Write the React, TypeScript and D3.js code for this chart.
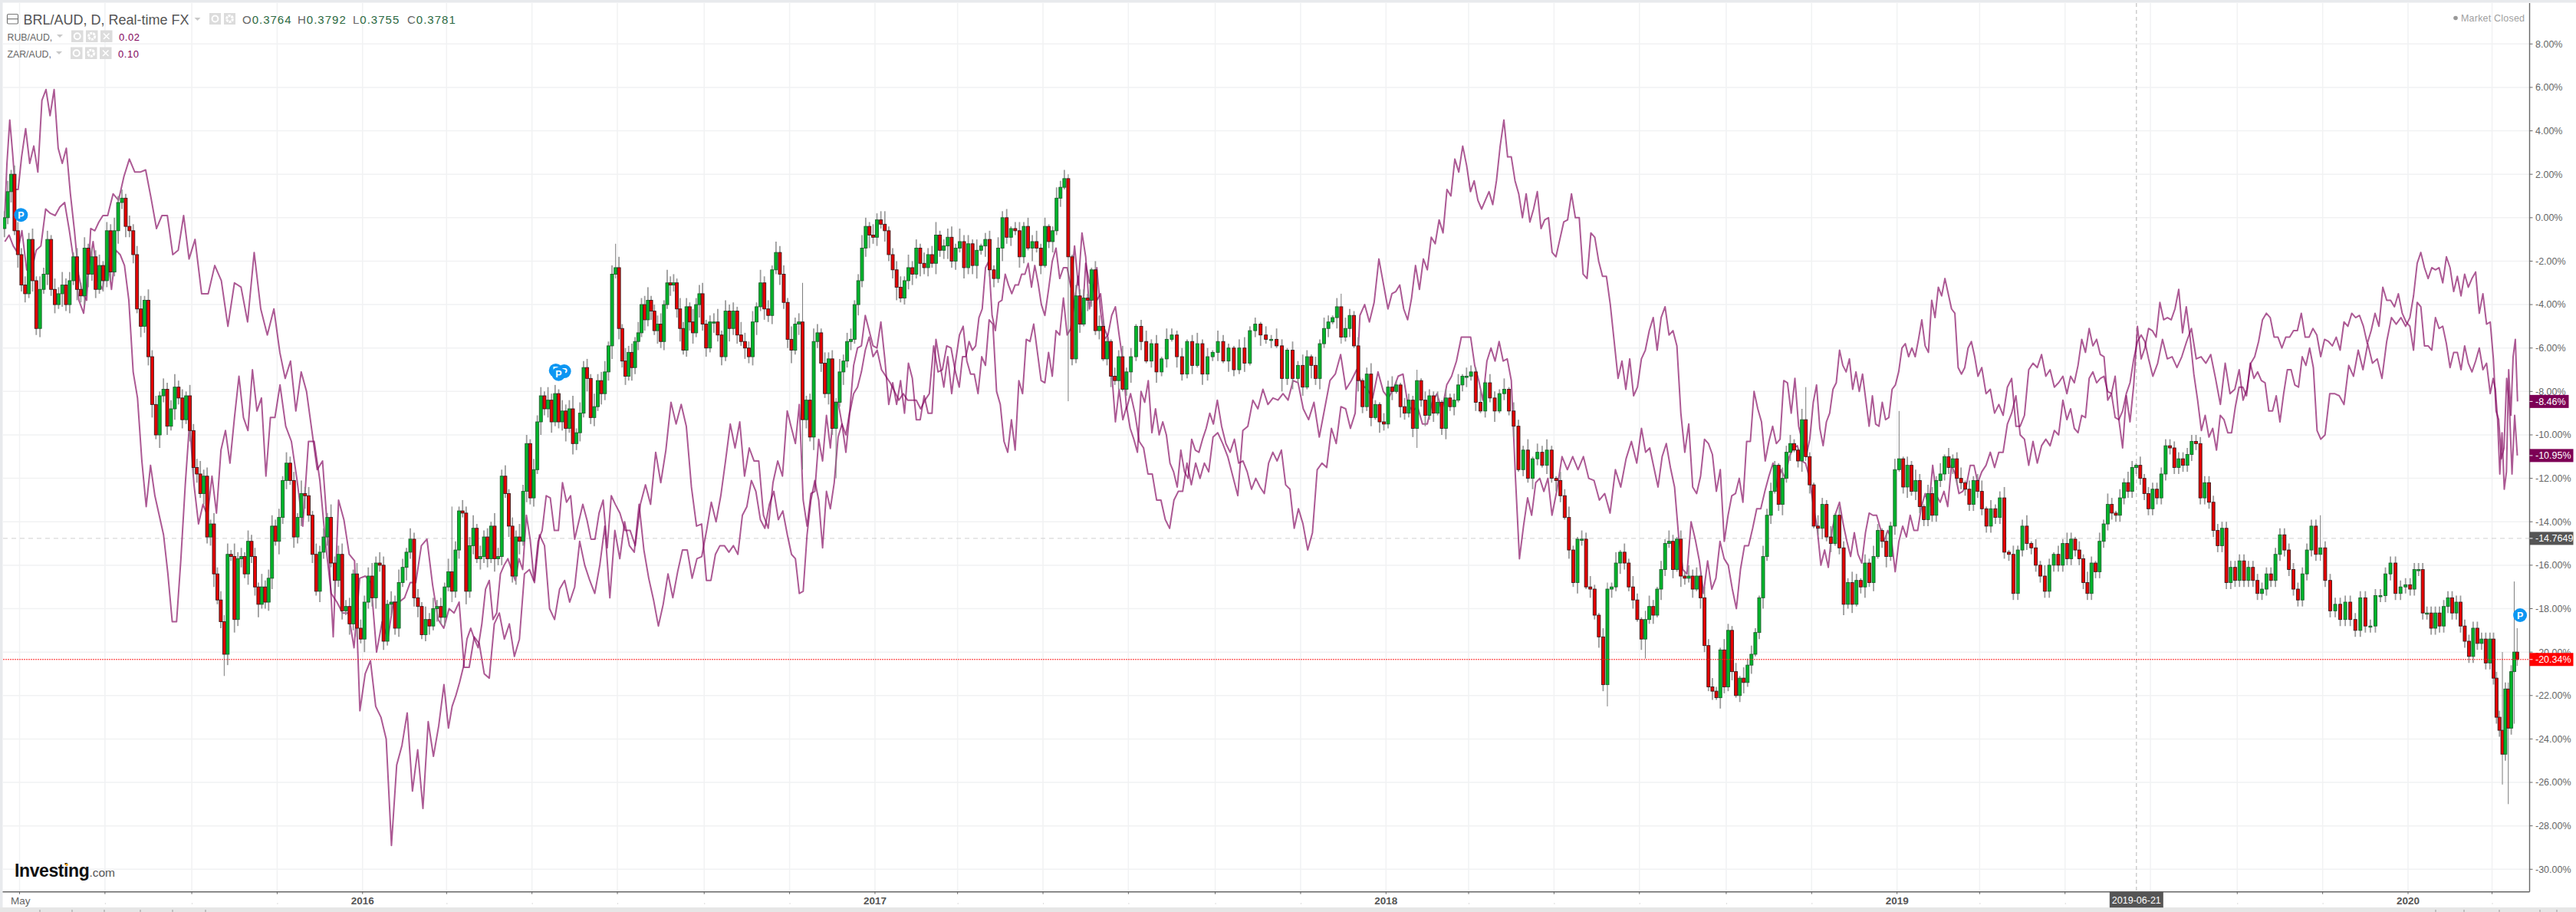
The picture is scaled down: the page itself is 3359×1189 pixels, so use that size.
import React from "react";
import * as d3 from "d3";

const W = 3359, H = 1189;
const FONT = "'Liberation Sans', Arial, sans-serif";

// Period boundaries: two-month chart periods, plus a short lead-in and tail
const firstDate = new Date(Date.UTC(2015, 3, 19));
const lastDate = new Date(Date.UTC(2020, 2, 20));
const yearLabels = [["May", Date.UTC(2015, 4, 1)], ["2016", Date.UTC(2016, 0, 1)], ["2017", Date.UTC(2017, 0, 1)], ["2018", Date.UTC(2018, 0, 1)], ["2019", Date.UTC(2019, 0, 1)], ["2020", Date.UTC(2020, 0, 1)]] as const;
const crosshairDate = Date.UTC(2019, 5, 21);
const crosshairLabel = "2019-06-21";
const pctTicks = [8, 6, 4, 2, 0, -2, -4, -6, -8, -10, -12, -14, -16, -18, -20, -22, -24, -26, -28, -30];

// BRL/AUD closes, % change, one list per period
const brlCloses = [
  [0, 1.2, 2.0, -0.6, -1.7],
  [-3.1, -3.5, -1, -2.9, -5.1, -3.3, -2.6, -1, -3.3, -4, -3.5, -3.1, -4, -2.9, -1.8, -3.3, -3.6, -1.4, -2.6, -1.8, -3.3, -2.2, -2.9],
  [-0.6, -2.5, -0.6, 0.7, 0.9, -0.4, -0.6, -1.7, -4.2, -5, -3.8, -6.4, -8.6, -10, -8.2, -7.9, -9.6, -8.8, -7.8, -8.3, -9.3, -8.2, -9.8],
  [-11.5, -11.8, -12.7, -11.9, -14.7, -14.1, -16.4, -17.6, -18.6, -20.1, -15.5, -15.6, -18.5, -15.7, -15.6, -16.4, -14.9, -15.6, -17, -17.8, -17, -17.7, -16.6, -14.2, -14.9],
  [-13.8, -12.1, -11.3, -12.1, -14.7, -13.8, -12.7, -12.8, -13.7, -15.5, -17.2, -15.4, -14.7, -13.8, -15.9, -16.7, -15.5, -18.1, -17.9, -18.7, -16.4, -18.9, -19.4],
  [-17.7, -16.5, -17.5, -15.9, -16, -19.5, -17.8, -17.7, -18.9, -16.8, -16.1, -15.4, -14.8, -17.5, -17.9, -19.2, -18.5, -18.8, -18, -17.9, -18.4, -17],
  [-16.3, -17.2, -15.3, -13.5, -13.6, -17.2, -15.1, -14.3, -15.7, -15.6, -14.7, -15.7, -14.2, -15.7, -15.6, -11.9, -12.7, -14.2, -16.5, -14.7, -14.9, -12.6, -10.4, -12.9],
  [-11.6, -9.4, -8.2, -8.8, -8.4, -9.4, -8.1, -9.4, -8.9, -9.7, -8.8, -10.4, -9.9, -9, -6.9, -7.4, -9.2, -8.7, -7.5, -8.1, -7.1, -5.9, -2.6, -2.3],
  [-5.1, -6.6, -7.3, -6.2, -6.9, -5.7, -5.3, -4, -4.7, -3.8, -4.3, -5.2, -4.9, -5.7, -4, -3, -3.1, -3, -4.2, -5.1, -6.1, -4.1, -4.8, -5.3, -4, -3.5, -4.9],
  [-6, -4.8, -4.8, -5.4, -6.4, -4.3, -5.1, -4.3, -5.4, -5.7, -6, -6.4, -4.8, -4.1, -3, -4.2, -4.5, -2.4, -1.6, -2.6, -3.9, -5.6],
  [-6.1, -4.9, -4.8, -9.3, -8.4, -10.1, -5.7, -5.3, -6.7, -8.1, -6.5, -9.7, -8.5, -7.1, -6.6, -5.7, -5.6, -4, -2.9, -1.4, -0.4, -0.8, -0.9],
  [-0.1, -0.3, -0.6, -1.7, -2.4, -3.2, -3.7, -2.9, -2.3, -2.6, -1.4, -2.1, -2.3, -1.7, -2.1, -0.8, -1.5, -1.3, -0.9, -2, -1.4],
  [-1.1, -2.3, -1.2, -2.2, -1.5, -1.3, -1, -2.4, -2.8, -1.4, 0, -0.9, -0.5, -0.6, -1.8, -0.4, -1.4, -1.1, -1.4, -2.2],
  [-0.4, -1.1, -0.6, 0.9, 1.4, 1.8, -1.8, -6.5, -3.6, -4.9, -3.7, -3.8, -2.4, -5.2, -5, -6.5, -5.7, -7.3, -7.5, -6.4, -7.9, -7.1],
  [-6.4, -5, -5.7, -6.6, -5.8, -7.1, -6.5, -5.6, -5.4, -6.4, -7.2, -5.7, -6.8, -5.8, -7.2, -6.4, -6.2],
  [-5.7, -6.6, -6, -7, -6, -6.7, -5.2, -4.9, -5.4, -5.6, -5.6, -5.9, -7.4, -6.1, -7.4, -6.8],
  [-7.8, -6.4, -6.8, -7.4, -5.8, -5.1, -4.8, -4.6, -4.1, -5.5, -5.1, -4.5, -5.9, -7.5, -8.7, -7.2, -9.2, -8.6, -9.4, -9.5],
  [-7.8, -8, -7.7, -8.7, -9, -8.4, -9.7, -7.5, -8.4, -9.1, -8.2, -9, -8.5, -9.7, -8.3, -8.7, -8.4, -7.7, -7.3, -7.3],
  [-7.1, -8.5, -8.9, -7.6, -8.3, -8.9, -8.1, -7.9, -8.9, -9.6, -11.6, -10.7, -12, -11.1, -10.8, -11.4, -10.7, -12],
  [-12.1, -12.8, -13.8, -15.3, -16.8, -14.8, -14.8, -17, -17.1, -18.3, -19.3, -21.5, -17.1, -17, -15.9, -15.4, -15.9, -17, -17.6, -18.5],
  [-19.4, -18.5, -17.9, -18.3, -17.1, -16.2, -15, -14.9, -16.2, -14.8, -16.5, -16.6, -16.5, -17.1, -16.5, -17.5, -19.7, -21.6, -21.8, -22.1, -19.9, -21.6],
  [-19, -20.9, -22, -21.2, -21.4, -20.6, -20.1, -19.1, -17.5, -15.6, -13.7, -12.6, -11.4, -13.2, -12, -10.8, -10.4, -10.7, -11.2, -9.3, -11, -12.3],
  [-14.2, -14.3, -13.2, -14.7, -15, -13.7, -15.2, -17.8, -16.8, -17.8, -16.7, -17, -15.9, -16.8, -15.6, -14.4, -14.9, -15.6, -14.2, -11.6],
  [-11.1, -12.4, -11.4, -12.6, -12.1, -13.3, -13.9, -12.7, -13.7, -12.1, -11.8, -11, -11.5, -11.1, -12, -12.2, -12.5, -13.2, -12.1, -12.6],
  [-13.4, -14.2, -13.4, -13.8, -12.9, -15.4, -15.5, -17.3, -15.3, -14.2, -15, -15.2, -16, -16.5, -17.2, -16, -15.5, -16, -15],
  [-15.7, -14.8, -15.3, -15.7, -16.8, -17.3, -15.9, -16.3, -14.9, -14.1, -13.2, -13.6, -13.7, -12.9, -12.2, -12.6, -11.5, -11.4, -12, -12.7, -13.4],
  [-12.5, -12.9, -11.8, -10.5, -10.6, -11.5, -11.1, -11.4, -10.9, -10.3, -10.4, -12.9, -12.2, -13.1, -14.4, -15.1, -14.3, -16.8, -16.1, -16.7],
  [-15.8, -16.7, -16.1, -16.7, -17.3, -17.1, -16.4, -16.7, -15.5, -14.6, -15.3, -16.2, -17.1, -17.6, -16.4, -15.3, -14.2, -15.5, -15.2],
  [-16.7, -18.1, -17.8, -18.5, -17.7, -18.5, -19, -17.5, -18.8, -18.8, -17.4, -17.4, -16.4, -15.9, -17.3, -17, -16.9],
  [-17.1, -16.2, -16.2, -18.2, -18.2, -18.9, -18.2, -18.8, -17.9, -17.5, -18.2, -17.7, -18.8, -19.5, -20.2, -18.9, -19.6, -19.4, -20.5, -19.4],
  [-21.2, -23, -23.6, -24.7, -21.7, -23.5, -20.9, -20.0, -20.34],
];

// Upper and lower wick lengths in tenths of a percent, bar by bar
const wickUpDigits = "3524434352634253634243524352436342534625342534634253463425343526342534263453425342634253426345342543463542536425342635342634253462534264352436342534263425346253426345243526342534623452634253426345234625342643526342534263452364253426345236425346234526342534623452634251342534134243524125342153421453214352413524153241352415321452314253142531425314253241352143521432514325142351432514325143251435214352143521432514253145314253142534153421532415342153421534215321532514325314253142531425314325142351423514235142351425314253142531425314253142";
const wickDownDigits = "4352634253425342634253463425342635342534626342534253425346234526342534623452634253463425342634253426345342534263452342634253426342534263425346253426345234625342634253462534263425342634253462345263425342634253462534253462534263425342634253463425346234526342534634253462534263425316241352415324153241352413524135241532415324153241352416352416352415324153241532415324135241352413524132513251325314253142531425314253241532415324153241532415324135241352413524135241352413524135241352413524";

// Individually read long wicks: date, wick end in %
const longWicks: [number, number][] = [
  [Date.UTC(2015, 8, 23), -21.1], [Date.UTC(2016, 2, 4), -13.3], [Date.UTC(2016, 5, 30), -1.2],
  [Date.UTC(2016, 10, 9), -3], [Date.UTC(2016, 10, 9), -11.6], [Date.UTC(2016, 11, 3), -12],
  [Date.UTC(2017, 4, 18), -8.45], [Date.UTC(2017, 10, 29), -3.5], [Date.UTC(2018, 0, 24), -10.6],
  [Date.UTC(2018, 5, 7), -22.5], [Date.UTC(2018, 6, 6), -20.3], [Date.UTC(2018, 9, 28), -7.8],
  [Date.UTC(2019, 0, 3), -8.9], [Date.UTC(2019, 9, 31), -13.7], [Date.UTC(2020, 2, 8), -20],
  [Date.UTC(2020, 2, 8), -26.1], [Date.UTC(2020, 2, 13), -27], [Date.UTC(2020, 2, 17), -16.75],
  [Date.UTC(2020, 2, 17), -23.3], [Date.UTC(2020, 2, 19), -18.9],
];

// Overlaid series, one list per period
const rubLine = [
  [-0.5, 2.5, 4.5, 3, 1.3, 1.3],
  [2.8, 4.1, 2.5, 3.3, 2.1, 5.4, 5.9, 4.7, 5.9, 3.2, 2.5, 3.2, 1.1, -0.6, -2.6, -3.5, -3.8, -0.5, -0.6, -0.2, 0.1],
  [0.1, 1.1, 0.8, 1.9, 2.7, 2.1, 2.1, 2.2, 0.9, -0.5, 0.1, 0.1, -1.7, -1.5, 0.1, -1.9],
  [-1, -3.5, -3.5, -2.2, -2.9, -5, -3, -3.2, -4.8, -1.6, -4.2, -5.4, -4.2],
  [-6.2, -7.4, -6.6, -8.9, -7.1, -8, -9.8, -11.6, -11.2, -14.6, -19.3, -13, -13.9, -15.5, -15.8, -22.7],
  [-21, -20.4, -22.5, -23, -24, -28.9, -25.2, -24.3, -22.8, -26.4, -24.5, -27.2, -23.2, -24.8, -23.4, -21.5],
  [-23.5, -22.5, -22, -21.4, -20.7, -19.4, -18.9, -19.4, -19.8, -18.7, -17.1, -16.7, -18.5, -18.2, -16.4, -16, -15.7, -16.2, -16.7, -15.7, -16.2, -13.7, -14.8],
  [-16.7, -14.9, -14.4, -12.8, -12.9, -14.4, -14.4, -12.2, -13.1, -12.8, -14.8, -14, -13.2, -13.9, -14.8, -14.8, -13.6, -13, -15.2, -12.8, -13.2],
  [-13.6, -14.4, -14.4, -15.1, -13.2, -12.3, -13.2, -10.8, -12.2, -10.7, -8.5, -9.5, -8.6, -9.6, -12.4, -14.2, -14.1],
  [-16.7, -16.7, -15.5, -15.1, -15.1, -15.4, -15.1, -15.5, -13.7, -13.3, -12.1, -12.6, -13.9, -14.3, -13.2, -12.6, -13.9, -13.5, -14.6],
  [-15.5, -15.7, -17.3, -17.2, -14.6, -13, -12.1, -13, -15.2, -12.6, -13.4, -12.2, -10.1, -9.5, -10, -8.9, -6.8, -6, -5.9, -4.5, -5.2, -5.9],
  [-6, -4.8, -6.5, -8.6, -7.6, -8.6, -7.5, -9, -6.7, -7.4, -9.3, -9.3, -8.2, -9, -9, -5.6, -6.7, -7.8, -6.4, -8.1, -6.6],
  [-5.4, -5, -6.6, -7.2, -7.2, -8.1, -6.4, -6.8, -4.7, -4.9, -8, -8.6, -10.3, -10.8, -9.3, -10.7, -7.5, -8.1, -5.6, -5.7, -4.9, -6.2, -7.5],
  [-7.6, -6.2, -7.3, -5.2, -5.4, -3.7, -5.4, -5.1, -3.8, -2.7, -4.9, -2.1, -3, -3.1, -3.8, -3.5, -5.1, -5.5, -7.1, -9.4, -7.9, -9.3, -8.7],
  [-9.7, -10.2, -10.8, -8, -8.5, -7.5, -9.9, -8.8, -10, -9.4, -10, -11.3, -11.7, -12.4, -10.7, -11.7, -12, -10.2, -10.7, -10.8, -10.2, -9.7, -9, -9.5],
  [-8.4, -9.6, -10.4, -10.8, -10.2, -11.3, -11.2, -11.7, -12.5, -12, -12.4, -12.7, -11.3, -10.8, -11.2, -10.7, -12.3, -12.5, -14.3, -13.4],
  [-14.1, -15.3, -14.5, -11.6, -11.3, -11.5, -9.7, -10.4, -8.7, -8.8, -9.7, -9, -4.5, -4, -4.8, -3.9, -1.9, -3.1],
  [-4.2, -3.5, -3.4, -3.1, -4.2, -4.7, -3.7, -2.2, -3.3, -1.9, -2.4, -0.9, -1.2, -0.1, -0.7, 1.3, 1, 2.7, 2.1, 3.3, 2.4],
  [1.2, 1.7, 0.8, 0.4, 0.8, 1.2, 0.6, 1.7, 3.3, 4.5, 2.8, 2.8, 1.7, 1.1, 0, 1.1, -0.2, 0.4, 1.2, -0.5, -0.1, 0, -1.6],
  [-1.8, -1, -0.2, -0.1, 1.1, 0, 0, -2.6, -2.8, -0.7, -0.9, -2, -2.7, -2.7, -4, -5.7, -7.4, -6.6, -7.9, -6.5, -8.2, -7.8],
  [-6.5, -6.1, -5.2, -4.6, -6.1, -4.6, -4.1, -5.4, -5.2, -5.9, -9, -10.8, -9.5, -12.4, -12.7, -11.9, -10.2, -10.4, -10.9, -12.6, -11.6, -14.9],
  [-13.7, -12.8, -12.7, -12, -13.1, -10.3, -10.3, -8, -8.8, -9.4, -11.2, -10.3, -9.6, -10.4, -10.2, -7.5, -7.6, -9, -7.4, -9.6, -10.3, -11, -10.2],
  [-8.5, -7.7, -9.7, -10.5, -9.4, -9, -7.9, -7.6, -6.1, -6.8, -7.1, -6.5, -7.9, -7.1, -8, -7.2, -8.4, -9.6, -8.2, -9.5, -9.6, -8.5, -9.3, -9.2, -7.9, -7.7],
  [-7.1, -6, -5.8, -6.4, -6, -6.4, -5.6, -4.7, -5.9, -6.2, -3.8, -4.6, -3.2, -3.6, -2.8, -3.5, -4.2, -4.4, -6.9, -7.2, -6.9, -6, -5.7, -6.4, -7.3],
  [-6.9, -8.1, -7.9, -9, -8.6, -9.1, -7.8, -7.4, -9.6, -9.6, -9.1, -7, -6.7, -6.9, -6.3, -7.3, -7, -7.8, -7.6, -7.3],
  [-8.1, -7.3, -7.6, -6.8, -5.6, -6.2, -5.1, -5.9, -5.6, -6.3, -6.4, -8.4, -8.1, -9.2, -9.3, -8.9, -8.1, -7.6, -6.5, -5.7, -5.4, -5.7, -6.5],
  [-7.3, -6.7, -5.6, -6.5, -6.4, -6.9, -6.4, -5.7, -5.1, -6.5, -6.4, -6.7, -6.3, -7.4, -8.6, -6.7, -8.1, -7.9],
  [-7, -8.4, -7.9, -6.7, -6.4, -5.7, -4.7, -4.4, -4.6, -5.5, -5.5, -6, -5.5, -5.5, -5.2, -5.2, -4.4, -5.5, -5.5, -5.1, -5.4, -6.4],
  [-5.6, -5.7, -5.9, -5.5, -6.1, -4.8, -5, -4.4, -4.6, -4.5, -5, -5.8, -5.2, -4.4, -5, -3.2, -3.8, -3.8, -4.1, -3.5, -4.4, -4.8],
  [-5, -6.1, -3.9, -4.1, -5.9, -5.9, -6.1, -4.6, -5.1, -5, -5.8, -6.9, -6.2, -6.2, -7, -5.9, -6.7, -7.1, -6.6, -6, -7, -6.7, -8.1],
  [-7.4, -7.9, -9.3, -11.8, -9.9, -12.5, -11.7, -7, -9.1, -6.4, -5.6, -8.46],
];

const zarLine = [
  [-1.1, -0.8, -1.3, -1.6],
  [-0.6, -2.4, -2.5, -1.5, -1.3, 0.4, 0.2, 0.1, 0.5, 0.7, -0.6, -2.1, -3.8, -4.4, -2.4, -1.1, -2.9, -3.3],
  [-1.7, -3.3, -1.5, -1.7, -2.2, -3.8, -7.1, -8.3, -11.2, -13.3, -11.4, -12.8, -13.7, -14.6, -16.4, -18.6, -18.6, -15.7, -12.3, -9.4],
  [-12.3, -14.1, -13.2, -13.7, -11.9, -13.6, -10.7, -9.8, -11.3, -9.2, -7.3, -9.2, -9.8, -7, -8.9, -8.3, -11.9, -9.2, -9.2],
  [-7.7, -9.6, -10.3, -12.1, -14.2, -10.3, -10.3, -12.1, -15, -17.3, -17.7, -18.2, -18.2, -19.8, -16.6],
  [-16.5, -16.8, -20, -18.6, -19.4, -17.7, -17.7, -17.5, -16.8, -16.8, -15.1, -14.8, -16.9, -18.5, -18.9],
  [-18, -18.2, -17.7, -20.7, -20.7, -19.3, -19.6, -21, -21.2, -18.7, -18.2, -19.4, -18.7, -20.2, -19.4, -16.4, -16.2],
  [-16.8, -14.6, -15.1, -18, -18.5, -17.1, -16.7, -17.7, -17, -14.9, -16, -16.7, -17.3, -16, -14.2, -17.5, -14.4],
  [-15.7, -14, -15.1, -15.4, -13.2, -15.3, -16.6, -17.6, -18.8, -17.8, -16.4, -17.5, -16.3, -15.3, -15.3, -16.6, -15.7, -15.6],
  [-14.4, -13.1, -14, -12.8, -11.2, -9.5, -10.6, -9.4, -11.9, -10.6, -11.2, -11.2, -13.7, -14.3, -12.2, -11.2, -11.9, -8.9],
  [-9.7, -10.4, -8.6, -13, -14.2, -12.7, -12.6, -10.2, -11.2, -9.1, -10.6, -8.5, -8.5, -9.5, -10.8, -9, -8.1, -7.8, -7.1, -6.1, -5.5, -6.4],
  [-6.1, -7, -7.3, -7.6, -8, -8.4, -8.1, -8.4, -8.4, -8.4, -8.8, -8.4, -8.1, -5.9, -7.1, -7, -5.9, -6, -7.1],
  [-7.8, -6.4, -6.4, -5.7, -6.1, -5.9, -4.6, -4.2, -2.3, -2, -4.5, -5.2, -3.9, -3.8, -2.6, -3.1, -3.5, -3.1, -3.1, -2.6, -2.6, -2.1, -3.2, -2.2, -3, -4],
  [-4.5, -3.3, -2, -1.4, -2.8, -2.3, -2.3, -3.2, -1.3, -3.1, -0.7, -1.8, -4.2, -3.2, -2.3, -4.3, -5.6, -5.4, -4.5, -4.1, -5.4, -6.6, -8.8],
  [-8.1, -9, -10.3, -10.6, -11.8, -11.8, -13, -13, -13.9, -14.3, -13, -12.6, -12.6, -11.3, -12.3, -11.3, -12, -11.3, -11.7, -10.1],
  [-9.9, -10.4, -11, -11.9, -12.8, -9.8, -9.6, -8.4, -8.8, -7.9, -8.6, -8.3, -8.4, -8.1, -8.4, -7.5, -7.6],
  [-8.8, -9.3, -8.5, -10.1, -8.8, -7.5, -7.2, -6.3, -7.9, -7.5, -7, -7.7, -7.9, -8.3, -7.1, -8],
  [-8.3, -7.9, -7.3, -7.2, -8.6, -8.9, -8.7, -9.5, -9.5, -8.5, -8.1, -8.9, -7.7, -7.3, -6.6, -5.5, -5.5],
  [-5.5, -6.8, -7.5, -8.4, -6.6, -6, -6.6, -5.7, -6.6, -6.5, -7.5, -11.9, -15.7, -14.2, -12.9, -13.7, -12.2, -12, -12.6, -12, -13.7],
  [-12.6, -11, -11.6, -11, -11.6, -11, -12, -12.1, -13, -12.7, -13.6, -11.6, -12.4, -11.1, -10.3, -11.3],
  [-9.7, -10.8, -10.6, -11.5, -12.4, -11, -10.4, -11.5, -12.4, -14.7, -16.2, -16.4, -14, -14.8, -15.8, -17.3, -15.8, -17.1, -16.6, -14.9, -15.7],
  [-16, -17.1, -18, -16.2, -15.1, -15.1, -14.3, -13.4, -13.4, -12.6, -11.9, -11.3, -12.4, -11.6, -12, -11, -10.6, -10.5, -11.2, -11.3, -12],
  [-13.3, -14.3, -16, -15.3, -16.1, -14.4, -13.6, -13.1, -14.1, -14.9, -15.6, -14.5, -15.5, -15.9, -14.5, -13.6, -13.7, -13.7, -14.3, -14.9, -14.4, -14.8, -16.3],
  [-14.9, -14.2, -14.7, -13.7, -14.4, -14.4, -13.3, -12.7, -13.3, -11.4, -12.8, -13.1, -12.6, -13.3, -11.4, -11.8, -12.7, -12.6, -12.3, -11.4, -11.4, -12.2],
  [-11.7, -11.4, -10.8, -11.5, -10.8, -10.8, -9.5, -9, -8.2, -10, -10.2, -11.4, -10.3, -11.3, -10.5, -10.2, -10.5, -9.8, -10, -8.4],
  [-9.3, -8.8, -9.7, -9.9, -9.1, -9.2, -7.4, -7.1, -7.6, -7.4, -7.3, -8, -8.1, -7.3, -9.3, -10.6, -8.2, -9.4, -7.7, -5, -6.5, -6, -5.1],
  [-5.2, -5.5, -3.9, -4.7, -4.6, -4.7, -4.2, -3.3, -5.3, -4.1, -5.5, -7.2, -8.4, -9.8, -9.1, -10.1, -9.7, -10.7, -9.1, -9.3, -9.9, -9.9, -8.7],
  [-7.8, -7.8, -8.2, -6.7, -7.4, -7.1, -7.5, -7.6, -8.9, -8.9, -8.2, -9.4, -8.1, -7, -7, -7.7, -7.8, -6.4, -6.8, -6, -6.9, -9.8, -10.2],
  [-10, -8.1, -8.1, -8.2, -8.6, -6.8, -7.3, -6.1, -7, -5.8, -6.7, -6.5, -7.4, -5.7, -4.6, -4.9, -4.6, -5],
  [-4.6, -3.6, -2.1, -1.6, -2.3, -2.8, -2.3, -2.4, -2.3, -3, -1.8, -2.3, -3.4, -2.7, -3.6, -2.6, -3.2, -2.8, -2.5, -4.4, -3.5, -4.9, -4.8],
  [-6.5, -8.9, -9.3, -11.1, -10.6, -7.4, -8.6, -11.8, -9.1, -10.95],
];

const lastValues = [
  { text: "-8.46%", v: -8.46, fill: "#7d0055", w: 51 },
  { text: "-10.95%", v: -10.95, fill: "#7d0055", w: 57 },
  { text: "-14.7649", v: -14.7649, fill: "#555555", w: 57 },
  { text: "-20.34%", v: -20.34, fill: "#ff0000", w: 57 },
];
const newsMarkers: [number, number][] = [
  [Date.UTC(2015, 4, 2), 0.13], [Date.UTC(2016, 4, 18), -7.03], [Date.UTC(2016, 4, 24), -7.07],
  [Date.UTC(2016, 4, 20), -7.2], [Date.UTC(2020, 2, 21), -18.3],
];
const bandTickDates = [52, 94, 136, 183, 225, 268, 3176, 3213, 3259, 3312, 3334];

const x = d3.scaleUtc().domain([Date.UTC(2015, 4, 1), Date.UTC(2020, 0, 1)]).range([25.5, 3140]);
const y = d3.scaleLinear().domain([8, -30]).range([57.3, 1133.3]);

const gridDates = d3.utcMonth.every(2)!.range(new Date(Date.UTC(2015, 4, 1)), new Date(Date.UTC(2020, 2, 2)));
const boundaries = [firstDate, ...gridDates, lastDate].map((d) => +d);

type Pt = { t: number; v: number };
function spread(lists: number[][]): Pt[] {
  const out: Pt[] = [];
  lists.forEach((list, p) => {
    const a = boundaries[p], b = boundaries[p + 1];
    list.forEach((v, i) => out.push({ t: a + ((i + 0.5) / list.length) * (b - a), v }));
  });
  return out;
}

const closes = spread(brlCloses);
const ups = Array.from(wickUpDigits, Number);
const downs = Array.from(wickDownDigits, Number);
const bars = closes.map((c, i) => {
  const open = i ? closes[i - 1].v : -0.5;
  const top = Math.max(open, c.v), bot = Math.min(open, c.v);
  return { t: c.t, open, close: c.v, hi: top + (ups[i] ?? 3) / 10, lo: bot - (downs[i] ?? 3) / 10, long: false };
});
longWicks.forEach(([t, v]) => {
  const bar = bars[d3.bisectCenter(bars.map((b) => b.t), t)];
  if (v > bar.hi) bar.hi = v;
  if (v < bar.lo) bar.lo = v;
  bar.long = true;
});

const linePath = d3.line<Pt>().x((d) => x(d.t)).y((d) => y(d.v));

const IconBox = ({ bx, by, s, kind }: { bx: number; by: number; s: number; kind: "eye" | "gear" | "x" }) => (
  <g>
    <rect x={bx} y={by} width={s} height={s} fill="#dcdcdc" />
    {kind === "eye" && <circle cx={bx + s / 2} cy={by + s / 2} r={s * 0.26} fill="none" stroke="#fff" strokeWidth={2} />}
    {kind === "gear" && <circle cx={bx + s / 2} cy={by + s / 2} r={s * 0.26} fill="none" stroke="#fff" strokeWidth={3} strokeDasharray="3 1" />}
    {kind === "x" && <path d={`M${bx + 4},${by + 4}L${bx + s - 4},${by + s - 4}M${bx + s - 4},${by + 4}L${bx + 4},${by + s - 4}`} stroke="#fff" strokeWidth={1.6} />}
  </g>
);
const Caret = ({ cx, cy }: { cx: number; cy: number }) => <path d={`M${cx - 4},${cy - 2}L${cx + 4},${cy - 2}L${cx},${cy + 2}Z`} fill="#c8c8c8" />;

export default function App() {
  const plotR = 3298.5, plotB = 1162.7;
  return (
    <svg width={W} height={H} viewBox={`0 0 ${W} ${H}`} style={{ position: "absolute", left: 0, top: 0, display: "block", background: "#fff" }} fontFamily={FONT}>
      <defs>
        <clipPath id="plot"><rect x={4} y={4} width={plotR - 4} height={plotB - 4} /></clipPath>
      </defs>
      <rect x={0} y={0} width={W} height={3.5} fill="#e8eaed" />
      <rect x={0} y={0} width={3.5} height={1183} fill="#e8eaed" />
      <rect x={0} y={1183} width={W} height={6} fill="#e6e6e6" />
      {bandTickDates.map((d) => <line key={d} x1={d} x2={d} y1={1186} y2={1189} stroke="#999" />)}

      {pctTicks.map((t) => <line key={t} x1={4} x2={plotR} y1={y(t)} y2={y(t)} stroke="#f1f2f3" strokeWidth={1.5} />)}
      {gridDates.map((d) => <line key={+d} x1={x(d)} x2={x(d)} y1={4} y2={plotB} stroke="#f1f2f3" strokeWidth={1.5} />)}

      <line x1={x(crosshairDate)} x2={x(crosshairDate)} y1={4} y2={plotB} stroke="#b5b5b5" strokeDasharray="5 4" />
      <line x1={4} x2={plotR} y1={y(-14.7649)} y2={y(-14.7649)} stroke="#cfcfcf" strokeDasharray="6 5" />

      <g clipPath="url(#plot)">
        <path d={linePath(spread(rubLine))!} fill="none" stroke="#80005a" strokeOpacity={0.65} strokeWidth={2} strokeLinejoin="round" />
        <path d={linePath(spread(zarLine))!} fill="none" stroke="#80005a" strokeOpacity={0.65} strokeWidth={2} strokeLinejoin="round" />
        {bars.map((b, i) => (
          <line key={i} x1={x(b.t)} x2={x(b.t)} y1={y(b.hi)} y2={y(b.lo)} stroke={b.long ? "#6e6e6e" : "#8a8a8a"} strokeOpacity={b.long ? 0.9 : 0.85} strokeWidth={b.long ? 1 : 1.8} />
        ))}
        {bars.map((b, i) => (
          <rect key={i} x={x(b.t) - 2} width={4} y={y(Math.max(b.open, b.close))} height={Math.max(1.5, Math.abs(y(b.open) - y(b.close)))}
            fill={b.close >= b.open ? "#00b52a" : "#e60000"} stroke={b.close >= b.open ? "#1d5e2c" : "#3a1a1a"} strokeWidth={0.9} />
        ))}
        <line x1={4} x2={plotR} y1={y(-20.34)} y2={y(-20.34)} stroke="#ff2020" strokeDasharray="2 1" strokeWidth={1} />
      </g>

      {newsMarkers.map(([t, v], i) => (
        <g key={i}>
          <circle cx={x(t)} cy={y(v)} r={9} fill="#0d96f2" />
          <text x={x(t)} y={y(v) + 4.5} textAnchor="middle" fontSize={12.5} fontWeight={700} fill="#fff">P</text>
        </g>
      ))}

      <line x1={plotR} x2={plotR} y1={4} y2={plotB} stroke="#666" strokeWidth={1.4} />
      <line x1={3.5} x2={plotR} y1={plotB} y2={plotB} stroke="#666" strokeWidth={1.4} />
      {pctTicks.map((t) => (
        <g key={t}>
          <line x1={plotR} x2={plotR + 4} y1={y(t)} y2={y(t)} stroke="#666" />
          <text x={3306} y={y(t) + 4.4} fontSize={12.5} fill="#666">{t.toFixed(2)}%</text>
        </g>
      ))}
      {lastValues.map((l) => (
        <g key={l.text}>
          <rect x={plotR} y={y(l.v) - 8.5} width={l.w} height={17} fill={l.fill} />
          <line x1={plotR} x2={plotR + 4} y1={y(l.v)} y2={y(l.v)} stroke="#fff" />
          <text x={3306} y={y(l.v) + 4.5} fontSize={12.5} fill="#fff">{l.text}</text>
        </g>
      ))}

      {gridDates.map((d) => (
        <g key={+d}>
          <line x1={x(d)} x2={x(d)} y1={plotB} y2={plotB + 3} stroke="#666" />
          <rect x={x(d)} y={1177.5} width={1} height={1} fill="#bbb" />
        </g>
      ))}
      {yearLabels.map(([label, t]) => (
        <text key={label} x={label === "May" ? x(t) - 11.5 : x(t)} y={1179} textAnchor={label === "May" ? "start" : "middle"} fontSize={13.5}
          fontWeight={label === "May" ? 400 : 700} fill={label === "May" ? "#666" : "#555"}>{label}</text>
      ))}
      <rect x={x(crosshairDate) - 35} y={plotB} width={70} height={20.5} fill="#555" />
      <text x={x(crosshairDate)} y={1178} textAnchor="middle" fontSize={12.5} fill="#fff">{crosshairLabel}</text>

      {/* Legend */}
      <rect x={9.5} y={18.5} width={14} height={12.5} rx={1.5} fill="none" stroke="#777" strokeWidth={1.2} />
      <line x1={9.5} x2={23.5} y1={24.7} y2={24.7} stroke="#777" strokeWidth={1.2} />
      <text x={30.5} y={32} fontSize={18} fill="#555">BRL/AUD, D, Real-time FX</text>
      <Caret cx={257.5} cy={25} />
      <IconBox bx={273} by={17} s={15} kind="eye" />
      <IconBox bx={292} by={17} s={15} kind="gear" />
      <g fontSize={15} letterSpacing={1}>
        <text x={316} y={31} fill="#666">O<tspan fill="#2d6a43">0.3764</tspan></text>
        <text x={388} y={31} fill="#666">H<tspan fill="#2d6a43">0.3792</tspan></text>
        <text x={460} y={31} fill="#666">L<tspan fill="#2d6a43">0.3755</tspan></text>
        <text x={531} y={31} fill="#666">C<tspan fill="#2d6a43">0.3781</tspan></text>
      </g>
      <text x={9.5} y={53} fontSize={12.3} fill="#666">RUB/AUD,</text>
      <Caret cx={78} cy={47} />
      <IconBox bx={93} by={39.5} s={15.5} kind="eye" />
      <IconBox bx={112} by={39.5} s={15.5} kind="gear" />
      <IconBox bx={131} by={39.5} s={15.5} kind="x" />
      <text x={155} y={53} fontSize={13} fill="#80005a" letterSpacing={0.6}>0.02</text>
      <text x={9.5} y={75} fontSize={12.3} fill="#666">ZAR/AUD,</text>
      <Caret cx={77} cy={69} />
      <IconBox bx={92} by={61.5} s={15.5} kind="eye" />
      <IconBox bx={111} by={61.5} s={15.5} kind="gear" />
      <IconBox bx={130} by={61.5} s={15.5} kind="x" />
      <text x={154} y={75} fontSize={13} fill="#80005a" letterSpacing={0.6}>0.10</text>

      <circle cx={3202} cy={23.5} r={2.8} fill="#999" />
      <text x={3209} y={28} fontSize={12.5} fill="#a0a0a0" letterSpacing={0.2}>Market Closed</text>

      {/* Logo */}
      <text x={19} y={1143} fontSize={23} fontWeight={700} fill="#111" letterSpacing={-0.4}>Investing<tspan fontSize={15.5} fontWeight={400} fill="#555" letterSpacing={0}>.com</tspan></text>
      <circle cx={87} cy={1127.5} r={1.8} fill="#f5a623" />
    </svg>
  );
}
